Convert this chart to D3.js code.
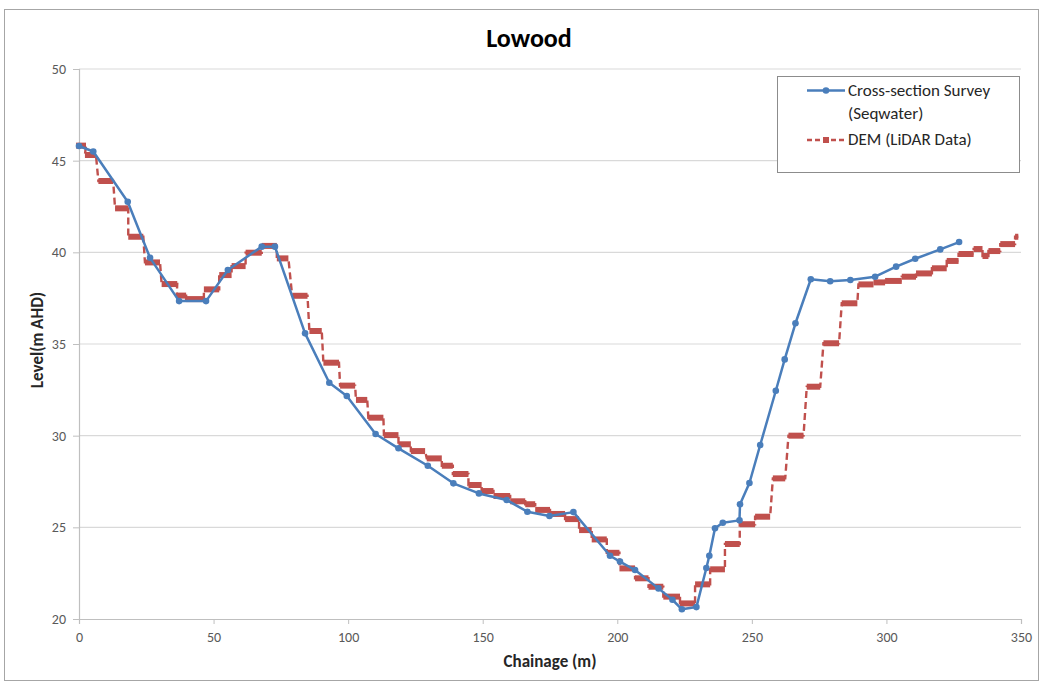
<!DOCTYPE html>
<html>
<head>
<meta charset="utf-8">
<script src="https://cdn.jsdelivr.net/npm/d3@7"></script>
<style>
  body { margin: 0; background: #fff; }
  svg text { font-family: Calibri, Carlito, "Liberation Sans", Arial, sans-serif; }
</style>
</head>
<body>
<div id="chart"></div>
<script>
// Cross-section Survey (Seqwater): chainage / level
var surveyX = [0, 5.3, 18.1, 26.4, 37.2, 47.2, 55.3, 67.9, 72.8, 84, 93.0, 99.5, 110.2, 118.7, 129.6, 139.1, 148.6, 158.9, 166.6, 174.8, 183.7, 197.3, 201.0, 206.6, 215.3, 220.5, 224, 229.4, 233.1, 234.2, 236.3, 239.2, 245.4, 245.6, 249.1, 253.1, 258.9, 262.2, 266.2, 271.9, 279.1, 286.6, 295.8, 303.6, 310.7, 320.0, 327.0];
var surveyY = [45.8, 45.5, 42.76, 39.7, 37.34, 37.34, 39.04, 40.31, 40.31, 35.58, 32.89, 32.16, 30.09, 29.31, 28.36, 27.40, 26.85, 26.49, 25.85, 25.62, 25.83, 23.45, 23.13, 22.67, 21.67, 21.05, 20.53, 20.65, 22.78, 23.45, 24.95, 25.25, 25.38, 26.26, 27.42, 29.49, 32.45, 34.16, 36.13, 38.53, 38.42, 38.49, 38.67, 39.22, 39.65, 40.16, 40.56];

// DEM (LiDAR Data): each step of equal level, from / to chainage
var demFrom = [-1.1, 2.2, 7.2, 13.4, 18.3, 24.5, 30.7, 36.3, 39.8, 46.4, 52.1, 56.7, 61.9, 67.9, 73.5, 79.2, 85.6, 90.8, 97.0, 102.9, 107.5, 113.3, 118.7, 123.3, 129.2, 134.8, 138.9, 144.7, 149.6, 154.0, 160.2, 165.8, 169.5, 175.0, 180.6, 185.8, 190.5, 196.1, 200.8, 206.6, 211.6, 217.1, 223.3, 228.9, 234.5, 240.0, 245.5, 251.2, 257.8, 263.6, 270.4, 276.6, 283.4, 289.6, 295.2, 299.5, 305.7, 311.0, 316.9, 322.4, 326.8, 332.4, 335.7, 337.9, 342.3, 347.8];
var demTo = [2.6, 6.3, 12.7, 18.3, 23.9, 30.1, 36.5, 39.8, 46.4, 52.1, 56.7, 61.9, 67.9, 73.5, 77.8, 84.9, 90.2, 96.6, 102.6, 107.1, 113.1, 118.7, 123.3, 128.6, 134.8, 138.9, 144.7, 149.6, 154.0, 160.2, 165.8, 169.5, 175.0, 180.6, 185.8, 190.5, 196.1, 200.8, 206.6, 211.6, 217.1, 223.3, 228.9, 234.5, 240.0, 245.5, 251.2, 256.8, 262.4, 269.2, 275.4, 282.4, 289.2, 295.2, 299.5, 305.7, 311.0, 316.9, 322.4, 326.8, 332.4, 335.7, 337.9, 342.3, 347.8, 349.0];
var demLevel = [45.82, 45.31, 43.89, 42.40, 40.85, 39.45, 38.27, 37.64, 37.45, 37.98, 38.76, 39.25, 39.98, 40.35, 39.67, 37.63, 35.71, 33.98, 32.73, 31.95, 30.98, 30.03, 29.53, 29.16, 28.76, 28.36, 27.91, 27.31, 26.98, 26.71, 26.42, 26.26, 25.95, 25.73, 25.45, 24.85, 24.34, 23.61, 22.76, 22.22, 21.76, 21.22, 20.85, 21.89, 22.71, 24.09, 25.17, 25.58, 27.67, 30.0, 32.67, 35.04, 37.22, 38.25, 38.36, 38.44, 38.67, 38.85, 39.13, 39.53, 39.91, 40.18, 39.80, 40.07, 40.45, 40.85];

var xTicks = [0, 50, 100, 150, 200, 250, 300, 350];
var yTicks = [20, 25, 30, 35, 40, 45, 50];

var W = 1040, H = 684;
var blue = "#4a7ebb", red = "#c0504d";

var svg = d3.select("#chart").append("svg")
    .attr("width", W)
    .attr("height", H);

svg.append("rect")
    .attr("x", 4.5).attr("y", 9.5)
    .attr("width", 1034).attr("height", 671)
    .attr("fill", "#fff")
    .attr("stroke", "#a6a6a6");

var x = d3.scaleLinear().domain([0, 350]).range([79, 1021]);
var y = d3.scaleLinear().domain([20, 50]).range([619, 69]);

// gridlines
svg.append("g")
    .selectAll("line")
    .data(yTicks.slice(1))
    .enter().append("line")
    .attr("x1", x(0)).attr("x2", x(350))
    .attr("y1", d => y(d)).attr("y2", d => y(d))
    .attr("stroke", "#d9d9d9")
    .attr("stroke-width", 1.2);

var xAxis = svg.append("g")
    .attr("transform", "translate(0," + y(20) + ")")
    .call(d3.axisBottom(x).tickValues(xTicks).tickSize(5).tickPadding(8));
var yAxis = svg.append("g")
    .attr("transform", "translate(" + x(0) + ",0)")
    .call(d3.axisLeft(y).tickValues(yTicks).tickSize(6).tickPadding(7));

[xAxis, yAxis].forEach(a => {
    a.select(".domain").attr("stroke", "#bfbfbf").attr("stroke-width", 1.2);
    a.selectAll(".tick line").attr("stroke", "#bfbfbf");
    a.selectAll(".tick text")
        .attr("fill", "#595959")
        .style("font-size", "14px")
        .style("font-family", "Calibri, Carlito, 'Liberation Sans', Arial, sans-serif");
});

// DEM dashed connector through every step end
var demPts = [];
for (var i = 0; i < demLevel.length; i++) {
    demPts.push([demFrom[i], demLevel[i]]);
    demPts.push([demTo[i], demLevel[i]]);
}
var line = d3.line().x(d => x(d[0])).y(d => y(d[1]));

svg.append("path")
    .datum(demPts)
    .attr("d", line)
    .attr("fill", "none")
    .attr("stroke", red)
    .attr("stroke-width", 2.4)
    .attr("stroke-dasharray", "7,4");

svg.append("g")
    .selectAll("line")
    .data(demLevel)
    .enter().append("line")
    .attr("x1", (d, i) => x(demFrom[i]))
    .attr("x2", (d, i) => x(demTo[i]))
    .attr("y1", d => y(d))
    .attr("y2", d => y(d))
    .attr("stroke", red)
    .attr("stroke-width", 6);

// survey line
var survey = surveyX.map((d, i) => [d, surveyY[i]]);
svg.append("path")
    .datum(survey)
    .attr("d", line)
    .attr("fill", "none")
    .attr("stroke", blue)
    .attr("stroke-width", 2.5)
    .attr("stroke-linejoin", "round");

svg.append("g")
    .selectAll("circle")
    .data(survey)
    .enter().append("circle")
    .attr("cx", d => x(d[0]))
    .attr("cy", d => y(d[1]))
    .attr("r", 3.3)
    .attr("fill", blue);

// title and axis titles
svg.append("text")
    .attr("x", 529).attr("y", 47)
    .attr("text-anchor", "middle")
    .style("font-size", "26px")
    .style("font-weight", "bold")
    .text("Lowood");

svg.append("text")
    .attr("x", 550).attr("y", 667)
    .attr("text-anchor", "middle")
    .style("font-size", "17px")
    .style("font-weight", "bold")
    .attr("fill", "#262626")
    .text("Chainage (m)");

svg.append("text")
    .attr("transform", "translate(43,340) rotate(-90)")
    .attr("text-anchor", "middle")
    .style("font-size", "17px")
    .style("font-weight", "bold")
    .attr("fill", "#262626")
    .text("Level(m AHD)");

// legend
var lg = svg.append("g");
lg.append("rect")
    .attr("x", 777.5).attr("y", 76.5)
    .attr("width", 242).attr("height", 96)
    .attr("fill", "#fff")
    .attr("stroke", "#8c8c8c");

lg.append("line")
    .attr("x1", 807).attr("x2", 845).attr("y1", 90.5).attr("y2", 90.5)
    .attr("stroke", blue).attr("stroke-width", 2.5);
lg.append("circle")
    .attr("cx", 826).attr("cy", 90.5).attr("r", 3.3).attr("fill", blue);

lg.append("line")
    .attr("x1", 807).attr("x2", 845).attr("y1", 140).attr("y2", 140)
    .attr("stroke", red).attr("stroke-width", 2.4)
    .attr("stroke-dasharray", "5,3");
lg.append("rect")
    .attr("x", 823).attr("y", 137).attr("width", 6).attr("height", 6).attr("fill", red);

[["Cross-section Survey", 96], ["(Seqwater)", 119], ["DEM (LiDAR Data)", 145]].forEach(t => {
    lg.append("text")
        .attr("x", 848).attr("y", t[1])
        .style("font-size", "17px")
        .attr("fill", "#262626")
        .text(t[0]);
});
</script>
</body>
</html>
